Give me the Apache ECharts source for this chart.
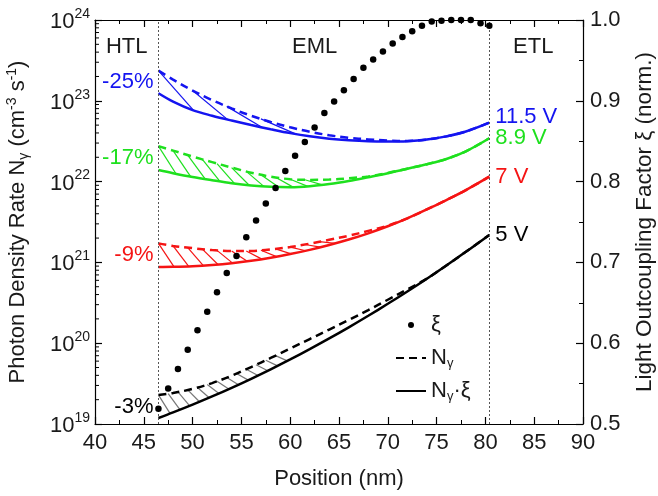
<!DOCTYPE html>
<html>
<head>
<meta charset="utf-8">
<script src="https://cdn.jsdelivr.net/npm/echarts@6/dist/echarts.min.js"></script>
<style>
  html, body { margin: 0; padding: 0; background: #fff; }
  #main { width: 658px; height: 496px; }
</style>
</head>
<body>
<div id="main"></div>
<script>
// positions (nm) where the photon density curves were read
const posNm = [46.5, 48, 50, 52, 54, 56, 58, 60, 62, 64, 66, 68, 70, 72, 74, 76, 78, 80.4];

// N_gamma (dashed) and N_gamma*xi (solid), cm^-3 s^-1
const blueDashed  = [2.36e23, 1.83e23, 1.34e23, 1.02e23, 8.04e22, 6.53e22, 5.47e22, 4.70e22, 4.14e22, 3.75e22, 3.49e22, 3.33e22, 3.22e22, 3.18e22, 3.31e22, 3.63e22, 4.17e22, 5.37e22];
const blueSolid   = [1.24e23, 9.77e22, 7.67e22, 6.53e22, 5.69e22, 5.01e22, 4.45e22, 3.98e22, 3.63e22, 3.39e22, 3.24e22, 3.15e22, 3.13e22, 3.16e22, 3.31e22, 3.63e22, 4.17e22, 5.37e22];
const greenDashed = [2.75e22, 2.42e22, 2.04e22, 1.74e22, 1.49e22, 1.29e22, 1.15e22, 1.07e22, 1.05e22, 1.06e22, 1.10e22, 1.16e22, 1.28e22, 1.445e22, 1.64e22, 1.905e22, 2.37e22, 3.44e22];
const greenSolid  = [1.39e22, 1.27e22, 1.14e22, 1.04e22, 9.55e21, 8.95e21, 8.61e21, 8.51e21, 8.75e21, 9.33e21, 1.02e22, 1.135e22, 1.27e22, 1.445e22, 1.64e22, 1.905e22, 2.37e22, 3.44e22];
const redDashed   = [1.72e21, 1.60e21, 1.50e21, 1.42e21, 1.38e21, 1.387e21, 1.445e21, 1.549e21, 1.706e21, 1.905e21, 2.138e21, 2.455e21, 2.851e21, 3.508e21, 4.519e21, 5.916e21, 7.852e21, 1.15e22];
const redSolid    = [8.77e20, 8.81e20, 8.97e20, 9.29e20, 9.77e20, 1.047e21, 1.143e21, 1.268e21, 1.429e21, 1.641e21, 1.919e21, 2.291e21, 2.80e21, 3.508e21, 4.519e21, 5.916e21, 7.852e21, 1.15e22];
const blackDashed = [2.29e19, 2.42e19, 2.72e19, 3.21e19, 3.96e19, 5.07e19, 6.56e19, 8.59e19, 1.127e20, 1.476e20, 1.936e20, 2.57e20, 3.45e20, 4.63e20, 6.29e20, 9.17e20, 1.352e21, 2.19e21];
const blackSolid  = [1.186e19, 1.39e19, 1.736e19, 2.193e19, 2.805e19, 3.63e19, 4.75e19, 6.30e19, 8.45e19, 1.146e20, 1.573e20, 2.186e20, 3.073e20, 4.37e20, 6.29e20, 9.17e20, 1.352e21, 2.19e21];

// light outcoupling factor xi (norm.)
const xiPos = [46.5, 47.5, 48.5, 49.5, 50.5, 51.5, 52.5, 53.5, 54.5, 55.5, 56.5, 57.5, 58.5, 59.5, 60.5, 61.5, 62.5, 63.5, 64.5, 65.5, 66.5, 67.5, 68.5, 69.5, 70.5, 71.5, 72.5, 73.5, 74.5, 75.5, 76.5, 77.5, 78.5, 79.5, 80.4];
const xiVals = [0.519, 0.544, 0.568, 0.592, 0.616, 0.639, 0.663, 0.687, 0.708, 0.731, 0.752, 0.773, 0.792, 0.813, 0.832, 0.849, 0.867, 0.885, 0.899, 0.913, 0.927, 0.941, 0.951, 0.961, 0.971, 0.979, 0.986, 0.993, 0.998, 0.999, 1.0, 1.0, 1.0, 0.996, 0.993];

// hatch start positions (nm) between dashed and solid
const blueHatch  = [46.5, 50, 53.5, 57];
const greenHatch = [46.5, 48, 49.5, 51, 52.5, 54, 55.5, 57, 58.5, 60, 61.5];
const redHatch   = [46.5, 48, 49.5, 51, 52.5, 54, 55.5, 57, 58.5, 60, 61.5, 63];
const blackHatch = [46.5, 47.5, 48.5, 49.5, 50.5, 51.5, 52.5, 53.5, 54.5, 55.5, 56.5, 57.5, 58.5];

const voltLabels = ['11.5 V', '8.9 V', '7 V', '5 V'];
const lossLabels = ['-25%', '-17%', '-9%', '-3%'];
const layerLabels = ['HTL', 'EML', 'ETL'];
const emlBounds = [46.5, 80.4];

const FONT = '"Liberation Sans", Arial, sans-serif';
const TXT = '#1a1a1a';

function interpLog(xs, ys, x) {
  for (let i = 0; i < xs.length - 1; i++) {
    if (x >= xs[i] && x <= xs[i + 1]) {
      const t = (x - xs[i]) / (xs[i + 1] - xs[i]);
      return Math.pow(10, Math.log10(ys[i]) * (1 - t) + Math.log10(ys[i + 1]) * t);
    }
  }
  return ys[ys.length - 1];
}

const sets = [
  { key: 'blue',  color: '#1414f0', dashed: blueDashed,  solid: blueSolid,  hatch: blueHatch,  dx: 3.6, hatchColor: '#1414f0', volt: voltLabels[0], loss: lossLabels[0], voff: [0, -6] },
  { key: 'green', color: '#1ee01e', dashed: greenDashed, solid: greenSolid, hatch: greenHatch, dx: 1.8, hatchColor: '#1ee01e', volt: voltLabels[1], loss: lossLabels[1], voff: [0, 0] },
  { key: 'red',   color: '#f51414', dashed: redDashed,   solid: redSolid,   hatch: redHatch,   dx: 1.6, hatchColor: '#f51414', volt: voltLabels[2], loss: lossLabels[2], voff: [0, 0] },
  { key: 'black', color: '#000000', dashed: blackDashed, solid: blackSolid, hatch: blackHatch, dx: 1.2, hatchColor: '#777777', volt: voltLabels[3], loss: lossLabels[3], voff: [0, 0] }
];

const series = [];

// minor log ticks on the left axis
const minorLogTicks = [];
for (let d = 19; d < 24; d++) {
  for (let k = 2; k <= 9; k++) minorLogTicks.push([40, k * Math.pow(10, d)]);
}
series.push({
  name: 'minorTicks',
  type: 'custom',
  silent: true,
  data: minorLogTicks,
  renderItem: function (params, api) {
    const p = api.coord([40, api.value(1)]);
    return { type: 'line', shape: { x1: p[0], y1: p[1], x2: p[0] + 4, y2: p[1] }, style: { stroke: '#000', lineWidth: 1 } };
  }
});

sets.forEach(function (s) {
  // hatching
  series.push({
    name: s.key + ' hatch',
    type: 'custom',
    silent: true,
    clip: true,
    data: s.hatch.map(function (x) { return [x, interpLog(posNm, s.dashed, x)]; }),
    renderItem: function (params, api) {
      const x0 = api.value(0);
      const p1 = api.coord([x0, interpLog(posNm, s.dashed, x0)]);
      const p2 = api.coord([x0 + s.dx, interpLog(posNm, s.solid, x0 + s.dx)]);
      return { type: 'line', shape: { x1: p1[0], y1: p1[1], x2: p2[0], y2: p2[1] }, style: { stroke: s.hatchColor, lineWidth: 1.2 } };
    }
  });
  series.push({
    name: s.key === 'black' ? 'Nγ' : s.key + ' dashed',
    type: 'line',
    smooth: 0.35,
    symbol: 'none',
    data: posNm.map(function (x, i) { return [x, s.dashed[i]]; }),
    lineStyle: { color: s.color, width: 2.5, type: [8, 5] },
    itemStyle: { color: s.color }
  });
  series.push({
    name: s.key === 'black' ? 'Nγ·ξ' : s.key + ' solid',
    type: 'line',
    smooth: 0.35,
    symbol: 'none',
    data: posNm.map(function (x, i) { return [x, s.solid[i]]; }),
    lineStyle: { color: s.color, width: 2.5 },
    itemStyle: { color: s.color },
    endLabel: {
      show: true,
      formatter: s.volt,
      color: s.color,
      fontSize: 22,
      fontFamily: FONT,
      distance: 6,
      offset: s.voff
    },
    markPoint: {
      symbol: 'circle',
      symbolSize: 0,
      silent: true,
      data: [{
        coord: [posNm[0], Math.sqrt(s.dashed[0] * s.solid[0])],
        label: { show: true, formatter: s.loss, position: 'left', distance: 5, color: s.color, fontSize: 22, fontFamily: FONT }
      }]
    }
  });
});

series.push({
  name: 'ξ',
  type: 'scatter',
  yAxisIndex: 1,
  clip: false,
  symbolSize: 6.5,
  itemStyle: { color: '#000', opacity: 1 },
  data: xiPos.map(function (x, i) { return [x, xiVals[i]]; }),
  z: 5,
  markLine: {
    silent: true,
    symbol: 'none',
    label: { show: false },
    lineStyle: { color: '#555', type: [2, 2], width: 1 },
    data: emlBounds.map(function (x) { return { xAxis: x }; })
  },
  markPoint: {
    symbol: 'circle',
    symbolSize: 0,
    silent: true,
    label: { show: true, color: TXT, fontSize: 22, fontFamily: FONT, position: 'inside' },
    data: [
      { coord: [43.25, 0.967], label: { formatter: layerLabels[0] } },
      { coord: [62.5, 0.967], label: { formatter: layerLabels[1] } },
      { coord: [84.9, 0.967], label: { formatter: layerLabels[2] } }
    ]
  }
});

const chart = echarts.init(document.getElementById('main'), null, { renderer: 'canvas' });

const axisLine = { show: true, lineStyle: { color: '#000', width: 1.2 } };

chart.setOption({
  animation: false,
  backgroundColor: '#fff',
  textStyle: { fontFamily: FONT },
  grid: { left: 95, right: 75, top: 20, bottom: 72, containLabel: false, outerBoundsMode: 'none' },
  legend: {
    data: [
      { name: 'ξ', icon: 'circle' },
      { name: 'Nγ', itemStyle: { opacity: 0 } },
      { name: 'Nγ·ξ', itemStyle: { opacity: 0 } }
    ],
    orient: 'vertical',
    left: 390,
    top: 308,
    itemWidth: 30,
    itemHeight: 6,
    itemGap: 9,
    selectedMode: false,
    formatter: function (name) {
      if (name === 'Nγ') return 'N{sub|γ}';
      if (name === 'Nγ·ξ') return 'N{sub|γ}·ξ';
      return name;
    },
    textStyle: {
      fontSize: 22,
      color: TXT,
      fontFamily: FONT,
      lineHeight: 24,
      rich: { sub: { fontSize: 13, verticalAlign: 'bottom', lineHeight: 24, fontFamily: FONT, color: TXT } }
    }
  },
  xAxis: [{
    type: 'value',
    min: 40,
    max: 90,
    interval: 5,
    name: 'Position (nm)',
    nameLocation: 'middle',
    nameGap: 44,
    nameTextStyle: { fontSize: 22, color: TXT, fontFamily: FONT },
    axisLine: axisLine,
    axisTick: { inside: true, length: 7, lineStyle: { color: '#000', width: 1.2 } },
    minorTick: { show: true, splitNumber: 2, length: 4, lineStyle: { color: '#000', width: 1 } },
    axisLabel: { fontSize: 22, color: TXT, fontFamily: FONT, margin: 8 },
    splitLine: { show: false }
  }, {
    type: 'value',
    position: 'top',
    min: 40,
    max: 90,
    interval: 5,
    axisLine: axisLine,
    axisTick: { inside: true, length: 7, lineStyle: { color: '#000', width: 1.2 } },
    minorTick: { show: true, splitNumber: 2, length: 4, lineStyle: { color: '#000', width: 1 } },
    axisLabel: { show: false },
    splitLine: { show: false }
  }],
  yAxis: [{
    type: 'log',
    min: 1e19,
    max: 1e24,
    logBase: 10,
    name: 'Photon Density Rate N{sub|γ} (cm{sup|-3} s{sup|-1})',
    nameLocation: 'middle',
    nameRotate: 90,
    nameGap: 64,
    nameTextStyle: {
      fontSize: 22,
      color: TXT,
      fontFamily: FONT,
      lineHeight: 26,
      rich: {
        sub: { fontSize: 14, verticalAlign: 'bottom', lineHeight: 26, color: TXT, fontFamily: FONT },
        sup: { fontSize: 14, verticalAlign: 'top', lineHeight: 26, color: TXT, fontFamily: FONT }
      }
    },
    axisLine: axisLine,
    axisTick: { inside: true, length: 7, lineStyle: { color: '#000', width: 1.2 } },
    axisLabel: {
      margin: 5,
      color: TXT,
      fontFamily: FONT,
      formatter: function (v) { return '{b|10}{s|' + Math.round(Math.log10(v)) + '}'; },
      rich: {
        b: { fontSize: 22, color: TXT, fontFamily: FONT, lineHeight: 26, verticalAlign: 'bottom' },
        s: { fontSize: 14, color: TXT, fontFamily: FONT, lineHeight: 26, verticalAlign: 'top' }
      }
    },
    splitLine: { show: false }
  }, {
    type: 'value',
    min: 0.5,
    max: 1.0,
    interval: 0.1,
    position: 'right',
    name: 'Light Outcoupling Factor ξ (norm.)',
    nameLocation: 'middle',
    nameRotate: 90,
    nameGap: 50,
    nameTextStyle: { fontSize: 22.5, color: TXT, fontFamily: FONT },
    axisLine: axisLine,
    axisTick: { inside: true, length: 7, lineStyle: { color: '#000', width: 1.2 } },
    minorTick: { show: true, splitNumber: 2, length: 4, lineStyle: { color: '#000', width: 1 } },
    axisLabel: { fontSize: 22, color: TXT, fontFamily: FONT, margin: 7, formatter: function (v) { return v.toFixed(1); } },
    splitLine: { show: false }
  }],
  series: series
});
</script>
</body>
</html>
